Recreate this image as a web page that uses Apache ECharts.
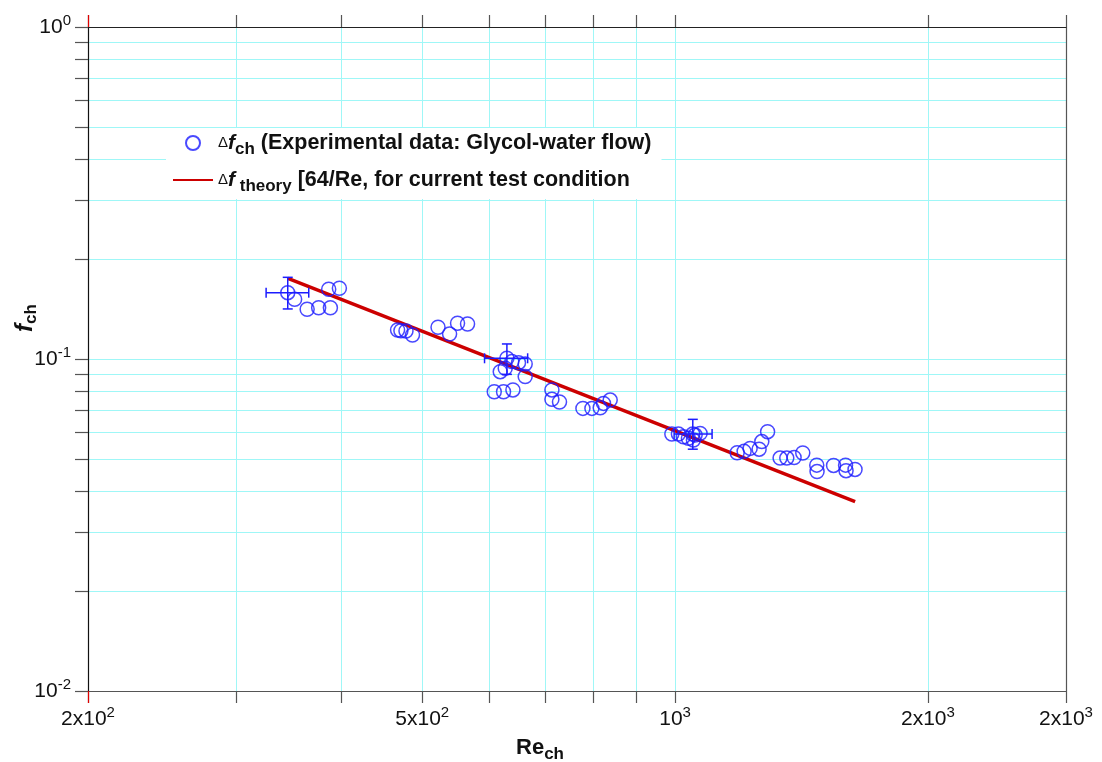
<!DOCTYPE html>
<html><head><meta charset="utf-8">
<script src="https://cdn.jsdelivr.net/npm/echarts@6/dist/echarts.min.js"></script>
<style>html,body{margin:0;padding:0;background:#fff}#c{width:1102px;height:762px}</style>
</head><body><div id="c"></div>
<script>
// ---- data ----
const reExp = [345.8,352.4,364.7,376.4,388.7,386.9,398.4,
  467.3,471.6,478.2,486.8,522.1,538.9,550.8,566.1,
  630.6,619.2,627.7,639.3,651.0,663.0,663.0,609.1,624.8,641.1,713.4,713.4,728.4,776.7,796.1,814.4,821.8,837.0,
  1049.7,991.1,1009.1,1023.1,1037.2,1051.5,1070.9,1056.4,
  1185.4,1208.3,1228.3,1259.0,1268.3,1288.6,1333.5,1358.2,1385.7,1419.0,1474.5,1475.7,1544.0,1595.6,1597.8,1637.6];
const fExp = [0.1584,0.1513,0.1412,0.1427,0.1427,0.1622,0.1633,
  0.1223,0.1217,0.1214,0.1181,0.1246,0.1189,0.1281,0.1275,
  0.1005,0.0916,0.0938,0.0982,0.0975,0.0966,0.0885,0.0797,0.0797,0.0807,0.0807,0.0756,0.0742,0.0710,0.0710,0.0713,0.0735,0.0752,
  0.0594,0.0594,0.0594,0.0583,0.0577,0.0570,0.0597,0.0590,
  0.0522,0.0527,0.0538,0.0535,0.0564,0.0604,0.0503,0.0503,0.0505,0.0521,0.0479,0.0458,0.0478,0.0479,0.0461,0.0465];
// error bars: centre, Re range, f range
const errRe   = [345.8, 630.6, 1049.7];
const errF    = [0.1584, 0.1005, 0.0594];
const errReLo = [325.9, 593.1, 997.3];
const errReHi = [366.3, 667.5, 1106.7];
const errFLo  = [0.1415, 0.0899, 0.0535];
const errFHi  = [0.1762, 0.1110, 0.0658];
// theory line end points
const reTheory = [346, 1638];
const fTheory  = [0.175, 0.0372];
// axes
const xMin = 200, xMax = 2920;
const yMin = 0.01, yMax = 1;
const xTickValues = [200,300,400,500,600,700,800,900,1000,2000,2920];
const xRedTick = [200];
const xLabelValues = [200,500,1000,2000,2920];
const xLabelTexts = [['2x10','2'],['5x10','2'],['10','3'],['2x10','3'],['2x10','3']];
const yTickValues = [0.01,0.02,0.03,0.04,0.05,0.06,0.07,0.08,0.09,0.1,0.2,0.3,0.4,0.5,0.6,0.7,0.8,0.9,1];
const yLabelValues = [0.01,0.1,1];
const yLabelTexts = [['10','-2'],['10','-1'],['10','0']];
const legendNames = ['exp','theory'];

// ---- build ----
const FONT = 'Liberation Sans, Arial, sans-serif';
const BLUE = '#1c1cff', RED = '#cc0000', GRIDC = '#9ff7f7';
function pick(vals, texts, v){
  let best=0, bd=Infinity;
  vals.forEach((t,i)=>{const d=Math.abs(Math.log10(t)-Math.log10(v)); if(d<bd){bd=d;best=i;}});
  return bd<0.01 ? texts[best] : null;
}
const scatterData = reExp.map((r,i)=>[r,fExp[i]]);
const errData = errRe.map((r,i)=>[r,errF[i],errReLo[i],errReHi[i],errFLo[i],errFHi[i]]);
const theoryData = reTheory.map((r,i)=>[r,fTheory[i]]);

const labRich = {
  n:{fontFamily:FONT,fontSize:21,color:'#111',lineHeight:28,verticalAlign:'middle'},
  s:{fontFamily:FONT,fontSize:15,color:'#111',verticalAlign:'top'}
};
const chart = echarts.init(document.getElementById('c'));
chart.setOption({
  animation:false,
  backgroundColor:'#fff',
  grid:{left:88,right:36,top:27,bottom:71,outerBoundsMode:'none'},
  legend:{
    data:[{name:legendNames[0]},{name:legendNames[1],itemStyle:{color:'rgba(0,0,0,0)',borderColor:'rgba(0,0,0,0)',borderWidth:0}}],
    orient:'vertical', left:166, top:128, padding:[4,10,4,6],
    itemGap:11, itemWidth:40, itemHeight:14, backgroundColor:'#fff',
    formatter:function(name){
      if(name==='exp') return '{d|Δ}{fi|f}{sub|ch}{t| (Experimental data: Glycol-water flow)}';
      return '{d|Δ}{fi|f}{sub| theory}{t| [64/Re, for current test condition}';
    },
    textStyle:{rich:{
      d:{fontFamily:FONT,fontSize:15,color:'#111',lineHeight:30,verticalAlign:'middle'},
      fi:{fontFamily:FONT,fontSize:21,fontStyle:'italic',fontWeight:'bold',color:'#111',lineHeight:30,verticalAlign:'middle'},
      sub:{fontFamily:FONT,fontSize:17,fontWeight:'bold',color:'#111',verticalAlign:'bottom'},
      t:{fontFamily:FONT,fontSize:21.5,fontWeight:'bold',color:'#111',lineHeight:30,verticalAlign:'middle'}
    }}
  },
  xAxis:[{
    type:'log', logBase:10, min:xMin, max:xMax, position:'bottom',
    name:'{b|Re}{sub|ch}', nameLocation:'middle', nameGap:42, nameMoveOverlap:false,
    nameTextStyle:{padding:[0,74,0,0],rich:{
      b:{fontFamily:FONT,fontSize:22,fontWeight:'bold',color:'#111',lineHeight:30,verticalAlign:'middle'},
      sub:{fontFamily:FONT,fontSize:17,fontWeight:'bold',color:'#111',verticalAlign:'bottom'}
    }},
    axisLine:{show:true,lineStyle:{color:'#555',width:1.2}},
    axisTick:{show:true,inside:false,length:12,customValues:xTickValues,lineStyle:{color:'#555',width:1.2}},
    axisLabel:{show:true,margin:14,customValues:xLabelValues,
      formatter:function(v){const t=pick(xLabelValues,xLabelTexts,v);return t?('{n|'+t[0]+'}{s|'+t[1]+'}'):'';},
      rich:labRich},
    splitLine:{show:true,lineStyle:{color:GRIDC,width:1}},
    minorTick:{show:false},minorSplitLine:{show:false}
  },{
    type:'log', logBase:10, min:xMin, max:xMax, position:'top',
    axisLine:{show:true,lineStyle:{color:'#222',width:1.2}},
    axisTick:{show:true,inside:false,length:12,customValues:xTickValues,lineStyle:{color:'#555',width:1.2}},
    axisLabel:{show:false}, splitLine:{show:false}
  },{
    type:'log', logBase:10, min:xMin, max:xMax, position:'bottom',
    axisLine:{show:false},
    axisTick:{show:true,inside:false,length:12,customValues:xRedTick,lineStyle:{color:'#e00000',width:1.2}},
    axisLabel:{show:false}, splitLine:{show:false}
  },{
    type:'log', logBase:10, min:xMin, max:xMax, position:'top',
    axisLine:{show:false},
    axisTick:{show:true,inside:false,length:12,customValues:xRedTick,lineStyle:{color:'#e00000',width:1.2}},
    axisLabel:{show:false}, splitLine:{show:false}
  }],
  yAxis:[{
    type:'log', logBase:10, min:yMin, max:yMax, position:'left',
    name:'{fi|f}{sub|ch}', nameLocation:'middle', nameGap:48, nameRotate:90, nameMoveOverlap:false,
    nameTextStyle:{padding:[0,0,0,82],rich:{
      fi:{fontFamily:FONT,fontSize:24,fontStyle:'italic',fontWeight:'bold',color:'#111',lineHeight:30,verticalAlign:'middle'},
      sub:{fontFamily:FONT,fontSize:17,fontWeight:'bold',color:'#111',verticalAlign:'bottom'}
    }},
    axisLine:{show:true,lineStyle:{color:'#111',width:1.2}},
    axisTick:{show:true,inside:false,length:13,customValues:yTickValues,lineStyle:{color:'#555',width:1.2}},
    axisLabel:{show:true,margin:17,customValues:yLabelValues,
      formatter:function(v){const t=pick(yLabelValues,yLabelTexts,v);return t?('{n|'+t[0]+'}{s|'+t[1]+'}'):'';},
      rich:labRich},
    splitLine:{show:true,lineStyle:{color:GRIDC,width:1}},
    minorTick:{show:false},minorSplitLine:{show:false}
  },{
    type:'log', logBase:10, min:yMin, max:yMax, position:'right',
    axisLine:{show:true,lineStyle:{color:'#555',width:1.2}},
    axisTick:{show:false}, axisLabel:{show:false}, splitLine:{show:false}
  }],
  series:[{
    name:'theory', type:'line', xAxisIndex:0, yAxisIndex:0, data:theoryData,
    showSymbol:false, symbol:'none', lineStyle:{color:RED,width:3.4}, itemStyle:{color:RED}, z:3
  },{
    name:'exp', type:'scatter', xAxisIndex:0, yAxisIndex:0, data:scatterData,
    symbol:'circle', symbolSize:14,
    itemStyle:{color:'rgba(255,255,255,0)',borderColor:BLUE,borderWidth:1.5}, z:4
  },{
    name:'err', type:'custom', xAxisIndex:0, yAxisIndex:0, data:errData, z:5,
    encode:{x:[0,2,3],y:[1,4,5]},
    renderItem:function(params,api){
      const x=api.value(0),y=api.value(1);
      const c=api.coord([x,y]);
      const xl=api.coord([api.value(2),y])[0], xh=api.coord([api.value(3),y])[0];
      const yl=api.coord([x,api.value(4)])[1], yh=api.coord([x,api.value(5)])[1];
      const st={stroke:BLUE,lineWidth:1.5};
      const h=5, w=5;
      return {type:'group',children:[
        {type:'line',shape:{x1:xl,y1:c[1],x2:xh,y2:c[1]},style:st},
        {type:'line',shape:{x1:xl,y1:c[1]-h,x2:xl,y2:c[1]+h},style:st},
        {type:'line',shape:{x1:xh,y1:c[1]-h,x2:xh,y2:c[1]+h},style:st},
        {type:'line',shape:{x1:c[0],y1:yl,x2:c[0],y2:yh},style:st},
        {type:'line',shape:{x1:c[0]-w,y1:yl,x2:c[0]+w,y2:yl},style:st},
        {type:'line',shape:{x1:c[0]-w,y1:yh,x2:c[0]+w,y2:yh},style:st}
      ]};
    }
  }]
});
</script>
</body></html>
